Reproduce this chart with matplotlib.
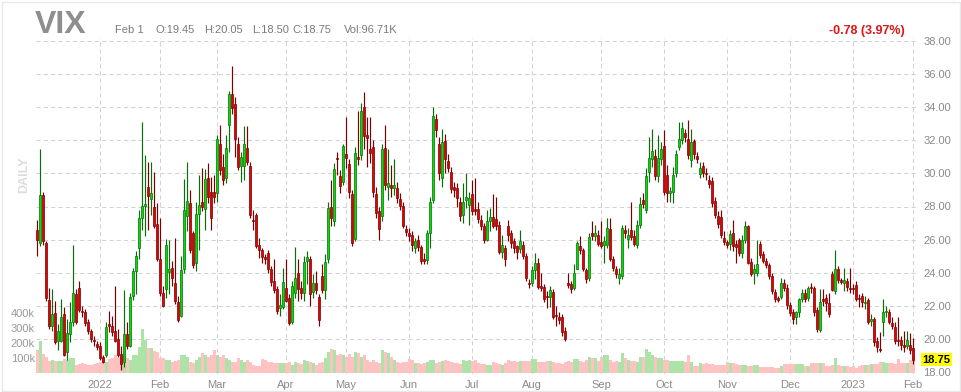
import matplotlib
matplotlib.use("Agg")
import matplotlib.pyplot as plt
import numpy as np
from matplotlib.transforms import blended_transform_factory
from matplotlib.patches import Rectangle

plt.rcParams['font.family'] = ['Liberation Sans', 'DejaVu Sans']

# ---------------- data (daily VIX, Dec 2 2021 .. Feb 1 2023) ----------------
opens = [
    26.6, 25.8, 28.7, 25.8, 22.35, 20.8, 21.55, 19.9, 19.9, 21.5,
    19.2, 20.3, 21.0, 22.7, 23.1, 21.7, 21.6, 21.0, 20.45, 19.95,
    19.7, 19.6, 18.9, 19.0, 20.9, 20.8, 20.5, 20.0, 19.1, 18.6,
    20.3, 19.6, 22.6, 24.1, 25.5, 27.3, 28.05, 29.2, 28.45, 28.0,
    26.95, 24.8, 22.75, 23.0, 24.05, 24.3, 23.35, 22.25, 21.4, 24.2,
    27.4, 28.2, 26.4, 24.6, 27.55, 28.3, 27.85, 29.75, 28.9, 28.9,
    28.8, 31.8, 30.4, 29.7, 32.9, 34.8, 34.2, 31.8, 30.45, 30.45,
    31.55, 30.45, 27.2, 27.5, 25.65, 25.35, 24.95, 25.2, 24.2, 23.5,
    23.0, 21.85, 21.95, 23.1, 22.5, 21.05, 22.8, 24.0, 23.05, 22.75,
    24.7, 24.85, 22.85, 23.4, 22.55, 23.8, 22.95, 24.8, 28.0, 27.1,
    30.95, 29.85, 29.5, 31.15, 30.55, 28.75, 26.05, 31.0, 31.1, 34.0,
    32.3, 31.5, 31.6, 28.75, 27.7, 27.4, 31.55, 29.2, 29.3, 29.1,
    29.1, 28.45, 28.05, 26.65, 26.4, 26.25, 25.5, 25.95, 25.55, 24.8,
    24.75, 26.4, 28.4, 33.3, 31.8, 29.7, 31.95, 30.75, 30.1, 29.15,
    29.1, 28.3, 27.5, 28.4, 28.1, 28.75, 27.85, 27.85, 27.2, 26.8,
    26.0, 27.1, 27.35, 27.25, 26.9, 25.25, 25.5, 26.8, 26.4, 25.9,
    25.6, 25.45, 25.65, 25.0, 23.4, 23.4, 24.15, 24.6, 23.2, 23.15,
    22.6, 22.55, 22.85, 21.45, 21.35, 21.35, 20.5, 23.35, 23.3, 23.05,
    24.25, 25.6, 25.35, 24.15, 23.7, 26.4, 26.2, 26.3, 25.85, 25.65,
    25.65, 26.65, 24.85, 24.2, 23.7, 23.8, 26.6, 26.05, 26.6, 26.2,
    25.7, 26.9, 28.4, 27.8, 30.1, 30.85, 31.05, 29.85, 30.9, 31.65,
    29.9, 28.8, 28.9, 30.0, 31.6, 32.0, 32.45, 32.05, 30.8, 31.95,
    31.05, 29.95, 30.45, 30.05, 29.6, 29.55, 28.35, 27.45, 27.35, 26.1,
    25.85, 25.75, 26.4, 25.75, 25.95, 25.2, 26.0, 26.8, 24.65, 24.0,
    24.0, 25.75, 25.1, 24.7, 24.45, 23.8, 22.85, 22.45, 22.55, 23.35,
    23.1, 22.05, 21.65, 21.3, 21.6, 22.4, 22.8, 22.45, 23.1, 23.05,
    21.75, 20.55, 22.4, 22.5, 22.15, 23.9, 22.9, 24.25, 23.55, 23.4,
    23.5, 23.05, 23.05, 23.25, 22.5, 22.6, 22.15, 22.35, 21.1, 21.2,
    19.9, 19.4, 21.0, 21.65, 21.65, 20.95, 20.7, 19.95, 19.95, 19.65,
    19.55, 19.65, 19.45,
]
highs = [
    27.2, 31.5, 28.9, 25.9, 23.1, 23.0, 22.3, 20.9, 22.4, 21.9,
    21.2, 22.2, 25.7, 23.0, 23.5, 22.0, 21.8, 21.2, 20.6, 20.2,
    19.9, 19.8, 19.0, 21.0, 21.7, 21.4, 23.2, 20.6, 19.6, 22.95,
    21.0, 22.8, 24.3, 25.3, 27.8, 33.1, 31.1, 30.7, 30.7, 30.1,
    28.2, 27.3, 23.2, 26.05, 26.0, 24.7, 26.1, 22.6, 25.0, 29.65,
    30.7, 29.0, 26.5, 28.3, 29.9, 30.3, 30.25, 30.65, 29.8, 29.9,
    32.3, 32.9, 31.2, 32.3, 35.0, 36.5, 34.6, 32.2, 31.3, 32.85,
    32.85, 30.7, 27.8, 27.6, 26.1, 25.5, 25.1, 25.4, 24.4, 24.8,
    23.2, 22.7, 24.3, 24.8, 22.7, 23.5, 25.55, 24.8, 23.5, 25.0,
    25.3, 25.0, 23.9, 24.1, 22.7, 24.5, 25.1, 28.3, 29.6, 30.6,
    31.3, 30.2, 31.75, 33.4, 30.9, 29.0, 31.6, 33.8, 34.25, 34.9,
    33.4, 33.4, 32.0, 29.2, 28.0, 31.8, 32.9, 31.5, 30.5, 30.9,
    29.5, 28.8, 28.3, 26.9, 26.7, 26.5, 26.1, 26.3, 25.7, 25.2,
    26.6, 28.6, 34.0, 33.6, 32.2, 32.7, 32.4, 31.2, 30.4, 29.5,
    29.4, 28.6, 29.4, 30.0, 28.9, 29.6, 29.7, 28.3, 27.5, 27.0,
    27.8, 27.9, 28.75, 28.6, 27.1, 26.3, 25.7, 27.2, 26.6, 26.1,
    25.7, 26.6, 25.9, 25.2, 23.6, 24.4, 25.2, 24.9, 24.0, 23.3,
    22.9, 23.2, 23.0, 22.0, 21.6, 21.5, 20.7, 24.0, 23.5, 24.5,
    25.9, 26.2, 25.5, 24.3, 26.4, 27.1, 26.9, 26.6, 27.15, 26.2,
    27.3, 27.3, 25.0, 24.4, 24.3, 26.9, 26.9, 26.7, 28.3, 26.6,
    27.2, 28.6, 28.8, 30.3, 32.2, 32.7, 31.5, 32.3, 31.9, 32.6,
    30.5, 29.2, 30.4, 31.4, 33.1, 33.1, 32.7, 33.2, 32.7, 32.1,
    31.3, 30.7, 30.7, 30.3, 29.9, 29.8, 28.6, 27.7, 27.8, 26.5,
    26.0, 26.6, 27.2, 26.0, 26.1, 26.3, 27.1, 26.9, 24.9, 24.5,
    26.0, 25.9, 25.3, 24.9, 24.6, 24.0, 23.0, 22.6, 23.7, 23.6,
    23.3, 22.2, 21.8, 21.7, 22.5, 23.0, 23.0, 23.2, 23.4, 23.2,
    21.9, 23.0, 23.0, 22.7, 22.8, 24.1, 25.35, 24.4, 23.7, 24.3,
    23.7, 24.3, 23.3, 23.5, 22.7, 22.8, 22.6, 22.5, 21.5, 21.3,
    20.1, 20.4, 22.4, 22.0, 21.8, 21.3, 21.0, 21.3, 20.2, 20.5,
    20.5, 20.35, 20.05,
]
lows = [
    25.0, 25.6, 25.7, 22.3, 20.6, 20.5, 19.7, 19.3, 19.8, 18.95,
    18.7, 19.8, 20.8, 20.9, 21.6, 21.3, 20.8, 20.3, 19.8, 19.6,
    19.3, 18.7, 18.55, 18.9, 20.4, 20.2, 19.8, 18.9, 18.1, 18.3,
    19.4, 19.5, 22.35, 22.7, 24.8, 26.6, 26.2, 26.6, 27.5, 26.7,
    24.7, 22.6, 21.9, 22.5, 22.7, 23.2, 22.1, 21.05, 21.3, 24.0,
    26.5, 25.2, 24.3, 24.1, 25.4, 27.7, 26.6, 28.2, 26.6, 28.2,
    28.3, 29.9, 29.3, 29.4, 31.3, 33.6, 31.0, 30.2, 29.5, 29.6,
    30.5, 27.3, 26.6, 25.5, 24.9, 24.6, 24.5, 24.0, 23.2, 22.8,
    21.5, 21.4, 21.8, 22.2, 20.85, 20.9, 22.5, 22.3, 22.4, 22.3,
    23.3, 22.0, 22.5, 22.7, 20.75, 22.8, 22.4, 24.6, 26.8, 26.8,
    29.9, 28.8, 29.3, 30.3, 28.5, 25.6, 25.9, 30.5, 30.8, 31.5,
    30.4, 30.6, 28.6, 27.3, 26.0, 27.1, 29.0, 28.4, 28.6, 28.7,
    28.2, 27.8, 26.7, 26.2, 25.9, 25.3, 25.2, 25.3, 24.5, 24.5,
    24.5, 25.5, 28.2, 32.2, 29.6, 29.2, 30.0, 30.1, 28.8, 28.6,
    28.0, 27.1, 27.0, 27.9, 26.9, 27.5, 27.5, 27.0, 26.6, 25.8,
    25.9, 26.5, 26.7, 26.6, 25.1, 24.9, 24.4, 25.9, 25.5, 25.2,
    24.8, 25.2, 24.8, 23.5, 23.1, 23.2, 23.6, 23.0, 22.9, 22.2,
    21.85, 21.9, 21.2, 20.8, 20.9, 20.2, 19.9, 23.1, 22.8, 22.95,
    24.2, 25.1, 24.1, 23.4, 23.5, 26.0, 25.9, 25.6, 25.5, 24.6,
    25.5, 24.7, 24.1, 23.7, 23.3, 23.6, 26.1, 25.5, 26.0, 25.6,
    25.5, 26.7, 27.9, 27.6, 29.5, 30.4, 29.6, 29.5, 30.5, 28.7,
    28.3, 28.3, 28.2, 29.8, 31.4, 31.8, 31.9, 30.9, 30.4, 30.9,
    30.6, 29.7, 29.8, 29.6, 29.1, 28.0, 27.3, 26.7, 26.1, 25.7,
    25.5, 25.4, 25.3, 24.6, 25.0, 24.9, 25.8, 24.5, 23.8, 23.3,
    23.8, 24.9, 24.6, 24.3, 23.6, 22.7, 22.2, 22.2, 22.4, 22.9,
    21.8, 21.4, 20.9, 20.9, 21.3, 22.2, 22.2, 22.3, 22.8, 21.4,
    20.4, 20.4, 22.0, 21.7, 21.3, 22.9, 22.7, 23.4, 23.3, 22.9,
    22.9, 22.8, 22.7, 22.3, 21.9, 21.9, 21.8, 20.9, 20.8, 19.6,
    19.2, 19.2, 20.2, 21.3, 20.9, 20.6, 19.7, 19.6, 19.3, 19.2,
    19.4, 19.1, 18.5,
]
closes = [
    26.0, 28.7, 25.9, 22.5, 20.8, 21.5, 19.8, 20.5, 21.3, 19.0,
    20.35, 21.0, 22.8, 21.0, 21.75, 21.6, 20.95, 20.5, 20.0, 19.9,
    19.5, 18.85, 18.6, 20.7, 20.8, 20.4, 19.9, 19.0, 18.5, 20.3,
    19.6, 22.55, 24.1, 25.0, 27.3, 28.05, 28.15, 28.65, 28.8, 26.85,
    24.8, 22.75, 22.0, 25.7, 24.2, 23.7, 22.3, 21.15, 24.15, 27.8,
    28.35, 25.4, 24.45, 27.55, 28.1, 27.95, 29.65, 28.6, 27.3, 28.6,
    32.1, 30.2, 29.6, 31.55, 34.8, 33.95, 32.1, 30.4, 31.0, 31.8,
    30.7, 27.5, 27.1, 25.6, 25.4, 24.95, 24.8, 24.2, 23.45, 22.95,
    21.7, 22.05, 23.45, 22.3, 20.95, 23.2, 23.7, 23.0, 22.8, 24.65,
    24.95, 22.7, 23.4, 22.95, 21.15, 22.95, 24.65, 27.9, 27.3, 30.25,
    30.85, 29.25, 31.65, 30.95, 28.9, 25.8, 31.25, 30.85, 33.8, 32.25,
    32.15, 31.25, 28.85, 27.6, 26.65, 31.5, 29.3, 29.4, 29.1, 29.3,
    28.5, 28.05, 26.85, 26.45, 26.2, 25.65, 25.9, 25.55, 24.7, 24.7,
    26.4, 28.3, 33.45, 32.6, 30.05, 31.9, 30.85, 30.35, 29.05, 29.0,
    28.5, 27.4, 28.3, 28.55, 28.5, 27.7, 27.7, 27.25, 26.85, 26.0,
    27.1, 27.35, 26.85, 26.85, 25.25, 25.65, 24.8, 26.25, 25.8, 25.5,
    25.25, 25.9, 25.0, 23.7, 23.3, 24.15, 24.6, 23.15, 23.1, 22.4,
    22.55, 22.95, 21.35, 21.4, 21.15, 20.4, 20.0, 23.25, 23.0, 24.0,
    25.8, 25.35, 24.25, 23.6, 26.15, 26.2, 26.4, 25.75, 25.6, 25.9,
    26.7, 24.85, 24.3, 23.95, 23.9, 26.7, 26.4, 26.3, 26.15, 25.75,
    26.9, 28.15, 28.15, 29.85, 30.95, 31.35, 29.85, 30.95, 31.45, 28.85,
    28.8, 28.95, 29.9, 31.2, 32.05, 32.75, 32.2, 31.1, 31.9, 31.2,
    30.85, 30.35, 30.0, 29.95, 29.35, 28.2, 27.5, 26.95, 26.3, 25.85,
    25.65, 26.35, 25.6, 25.55, 25.2, 26.0, 26.8, 24.6, 23.95, 24.2,
    24.5, 25.05, 24.7, 24.45, 23.8, 22.9, 22.4, 22.35, 23.35, 23.05,
    22.05, 21.55, 21.2, 21.6, 22.4, 22.8, 22.4, 23.1, 23.05, 21.65,
    20.6, 22.25, 22.3, 22.15, 21.5, 22.95, 24.2, 23.55, 23.45, 23.55,
    23.15, 23.0, 23.0, 22.4, 22.4, 22.2, 22.25, 21.05, 21.2, 19.8,
    19.5, 19.3, 21.65, 21.7, 21.05, 20.8, 19.9, 19.9, 19.65, 19.5,
    19.95, 19.35, 18.75,
]
volumes_k = [
    153, 213, 125, 109, 82, 87, 82, 82, 82, 91,
    87, 98, 98, 53, 60, 64, 60, 53, 53, 58,
    64, 76, 87, 76, 91, 98, 120, 98, 109, 120,
    98, 87, 120, 120, 176, 291, 220, 170, 165, 150,
    140, 98, 98, 87, 87, 76, 80, 87, 120, 120,
    109, 76, 69, 87, 109, 131, 120, 109, 120, 153,
    120, 109, 120, 98, 87, 76, 76, 98, 87, 76,
    87, 76, 53, 49, 44, 91, 87, 76, 76, 69,
    64, 64, 69, 64, 76, 53, 76, 64, 58, 87,
    80, 76, 64, 53, 64, 76, 98, 142, 160, 153,
    120, 127, 120, 109, 127, 109, 142, 131, 109, 120,
    87, 76, 87, 76, 69, 153, 142, 131, 109, 87,
    76, 69, 76, 76, 91, 87, 64, 64, 60, 64,
    76, 87, 87, 64, 76, 82, 87, 80, 76, 69,
    64, 60, 87, 82, 87, 82, 87, 64, 60, 60,
    53, 53, 76, 69, 60, 53, 69, 87, 80, 80,
    76, 82, 82, 80, 80, 91, 91, 76, 76, 76,
    82, 82, 76, 69, 64, 60, 76, 82, 76, 91,
    91, 80, 76, 87, 109, 98, 98, 82, 109, 120,
    120, 87, 76, 82, 76, 136, 98, 87, 82, 82,
    76, 109, 109, 158, 142, 120, 109, 98, 98, 87,
    87, 82, 82, 82, 82, 82, 76, 120, 76, 49,
    49, 64, 60, 64, 58, 58, 53, 53, 53, 53,
    76, 64, 64, 58, 53, 53, 53, 44, 44, 53,
    53, 40, 40, 40, 40, 40, 36, 36, 49, 58,
    58, 58, 58, 58, 58, 58, 49, 44, 64, 64,
    64, 69, 64, 44, 49, 53, 98, 53, 49, 44,
    44, 40, 44, 36, 44, 53, 53, 53, 58, 58,
    58, 76, 76, 69, 64, 64, 58, 91, 69, 69,
    69, 87, 97,
]
month_idx = [21, 41, 60, 83, 103, 124, 145, 165, 188, 209, 230, 251, 272, 292]
month_lbl = ['2022', 'Feb', 'Mar', 'Apr', 'May', 'Jun', 'Jul', 'Aug', 'Sep',
             'Oct', 'Nov', 'Dec', '2023', 'Feb']
price_ticks = [18, 20, 22, 24, 26, 28, 30, 32, 34, 36, 38]
vol_ticks_k = [100, 200, 300, 400]

# ---------------- figure ----------------
W, H = 961, 392
fig = plt.figure(figsize=(W / 100, H / 100), dpi=100)
fig.patch.set_facecolor('white')

L_px, R_px, T_px, B_px = 35.5, 917, 38, 374
ax_v = fig.add_axes([L_px / W, 1 - B_px / H, (R_px - L_px) / W, (B_px - T_px) / H])
ax_p = ax_v.twinx()
ax_v.set_zorder(0)
ax_p.set_zorder(1)
ax_p.patch.set_visible(False)

o = np.array(opens); h = np.array(highs); l = np.array(lows); c = np.array(closes)
v = np.array(volumes_k)
idx = np.arange(len(c))
up = c >= o

grid_kw = dict(color='#d2d2d2', lw=0.75, ls=(0, (4, 3)))

# volume bars
ax_v.bar(idx, v, width=1.0, color=np.where(up, '#ade3a6', '#ffc2c2'),
         edgecolor='none', zorder=2)
for m in month_idx:
    ax_v.axvline(m, zorder=0, **grid_kw)

# candles
wick_col = np.where(up, '#0a6e0a', '#7d0000')
ax_p.vlines(idx, np.minimum(l, np.minimum(o, c)), np.maximum(h, np.maximum(o, c)),
            colors=wick_col, lw=0.85, zorder=3)
body_lo = np.minimum(o, c)
body_h = np.maximum(np.abs(c - o), 0.06)
ax_p.bar(idx, body_h, bottom=body_lo, width=0.86,
         color=np.where(up, '#00e000', '#e30000'),
         edgecolor=np.where(up, '#0a6e0a', '#7d0000'), linewidth=0.5, zorder=4)
for p in price_ticks[1:]:
    ax_p.axhline(p, zorder=0, **grid_kw)

# limits
ax_v.set_xlim(-0.5, 293.33)
ppu = 16.55
ax_p.set_ylim(18 - (B_px - 372) / ppu, 38 + (41 - T_px) / ppu)
vpx = 0.15  # px per k
ax_v.set_ylim(-(B_px - 373) / vpx, (373 - T_px) / vpx)

for a in (ax_v, ax_p):
    for s in a.spines.values():
        s.set_visible(False)

# ticks
ax_v.set_xticks(month_idx)
ax_v.set_xticklabels(month_lbl)
ax_v.tick_params(axis='x', length=0, pad=4.5, labelsize=8, labelcolor='#8a8a8a')
ax_v.set_yticks(vol_ticks_k)
ax_v.set_yticklabels([f'{t}k' for t in vol_ticks_k])
ax_v.tick_params(axis='y', length=0, pad=0.5, labelsize=8, labelcolor='#9a9a9a')
ax_p.set_yticks(price_ticks)
ax_p.set_yticklabels([f'{t:.2f}' for t in price_ticks])
ax_p.tick_params(axis='y', length=0, pad=4.5, labelsize=8, labelcolor='#8a8a8a')

# last price tag
tr = blended_transform_factory(ax_p.transAxes, ax_p.transData)
ax_p.text(1.0 + 5.5 / (R_px - L_px), c[-1], f'{c[-1]:.2f}', transform=tr,
          ha='left', va='center', fontsize=8, fontweight='bold', color='black',
          bbox=dict(boxstyle='square,pad=0.12', fc='#ffff00', ec='none'), zorder=10)

# header texts
def fx(x):
    return x / W

def fy(y):
    return 1 - y / H

fig.text(fx(35), fy(33), 'VIX', fontsize=23, fontweight='bold', color='#8e8e8e',
         va='baseline', ha='left')
hdr_col = '#7a7a7a'
for x, s in [(115, 'Feb 1'), (156, 'O:19.45'), (204, 'H:20.05'), (252, 'L:18.50'),
             (292, 'C:18.75'), (344, 'Vol:96.71K')]:
    fig.text(fx(x), fy(33), s, fontsize=8, color=hdr_col, va='baseline', ha='left')
fig.text(fx(905), fy(34), '-0.78 (3.97%)', fontsize=9, fontweight='bold',
         color='#dd1515', va='baseline', ha='right')
fig.text(fx(24), fy(175), 'DAILY', rotation=90, fontsize=9, fontweight='bold',
         color='#dcdcdc', ha='center', va='center')

fig.patches.append(Rectangle((1.5 / W, 1.5 / H), 1 - 3 / W, 1 - 3 / H,
                             transform=fig.transFigure, fill=False,
                             edgecolor='#e8e8e8', lw=1))

fig.savefig('out.png', dpi=100, facecolor='white')
